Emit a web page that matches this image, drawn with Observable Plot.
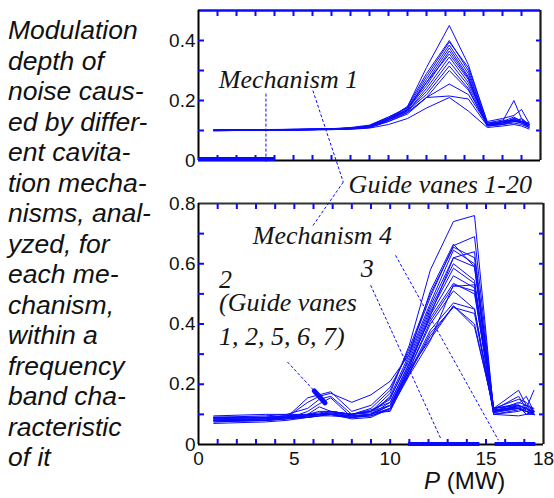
<!DOCTYPE html>
<html><head><meta charset="utf-8">
<script src="https://cdn.jsdelivr.net/npm/d3@7"></script>
<script src="https://cdn.jsdelivr.net/npm/@observablehq/plot@0.6"></script>
<style>
body{margin:0;background:#fff;}
#wrap{position:relative;width:554px;height:498px;overflow:hidden;background:#fff;}
#wrap svg{position:absolute;left:0;top:0;}
#desc{position:absolute;left:8px;top:15px;font-family:"Liberation Sans",Arial,Helvetica,sans-serif;font-size:26.5px;line-height:30.5px;color:#111;white-space:nowrap;}
#desc i{font-style:italic;}
#xlabel{position:absolute;left:424px;top:471px;font-family:"Liberation Sans",Arial,Helvetica,sans-serif;font-size:24px;line-height:20px;color:#111;white-space:nowrap;}
#wrap g[aria-label$="tick label"] text{font-family:"Liberation Sans",Arial,Helvetica,sans-serif;font-size:19px;}
</style></head>
<body>
<div id="wrap">
  <div id="desc"></div>
  <div id="xlabel"><i>P</i> (MW)</div>
</div>
<script>
// ---------- DATA ----------
const descLines = ["Modulation","depth of","noise caus-","ed by differ-","ent cavita-","tion mecha-","nisms, anal-","yzed, for","each me-","chanism,","within a","frequency","band cha-","racteristic","of it"];

// Top panel: mechanism 1, guide vanes 1-20
const topX = [0.8, 3, 5, 7, 8, 9, 10, 11, 12, 13.2, 14.2, 15.2, 16, 16.6, 17, 17.4];
const topSeries = [
  [.100,.101,.102,.104,.106,.112,.135,.18,.31,.45,.32,.125,.13,.135,.13,.12],
  [.101,.102,.103,.105,.108,.115,.14,.18,.29,.40,.30,.12,.13,.20,.14,.12],
  [.102,.101,.104,.106,.110,.118,.145,.175,.28,.395,.31,.13,.14,.15,.17,.125],
  [.100,.102,.103,.105,.107,.113,.14,.17,.27,.385,.29,.12,.125,.135,.13,.115],
  [.099,.101,.102,.104,.106,.112,.135,.17,.26,.375,.28,.115,.12,.13,.125,.11],
  [.101,.103,.104,.105,.108,.114,.14,.17,.25,.365,.275,.12,.125,.14,.135,.12],
  [.100,.101,.103,.106,.107,.116,.145,.175,.26,.355,.27,.118,.13,.145,.13,.125],
  [.102,.102,.104,.105,.109,.113,.14,.165,.24,.345,.26,.125,.135,.13,.14,.12],
  [.100,.100,.102,.104,.106,.111,.135,.165,.23,.33,.25,.12,.12,.135,.125,.115],
  [.101,.102,.103,.105,.108,.115,.14,.165,.22,.315,.24,.115,.125,.13,.13,.12],
  [.100,.101,.102,.104,.107,.112,.135,.16,.21,.30,.235,.12,.125,.14,.125,.115],
  [.099,.101,.102,.104,.106,.110,.13,.16,.21,.255,.22,.12,.13,.135,.13,.12],
  [.100,.101,.102,.103,.105,.110,.13,.155,.21,.215,.205,.115,.12,.125,.12,.11],
  [.100,.100,.101,.103,.104,.108,.12,.14,.175,.21,.165,.11,.115,.12,.115,.105]
];

// Bottom panel: mechanisms 2, 3, 4
const botX = [0.8, 3.5, 4.6, 5.7, 6.3, 6.9, 8, 9, 10, 11, 12.1, 13.3, 14.4, 15.4, 16.7, 17.1, 17.5];
const botSeries = [
  [.09,.09,.095,.10,.11,.11,.10,.11,.17,.33,.58,.74,.76,.11,.12,.11,.10],
  [.085,.085,.09,.14,.16,.17,.14,.165,.21,.30,.51,.665,.59,.12,.18,.13,.11],
  [.08,.08,.09,.155,.165,.175,.11,.13,.19,.31,.49,.66,.69,.115,.16,.12,.10],
  [.095,.10,.10,.12,.15,.16,.10,.12,.18,.32,.50,.655,.62,.12,.15,.14,.11],
  [.075,.08,.085,.11,.135,.155,.09,.10,.16,.30,.47,.645,.60,.11,.14,.13,.12],
  [.09,.09,.095,.10,.125,.11,.10,.11,.15,.29,.46,.62,.59,.105,.13,.12,.18],
  [.08,.085,.09,.095,.10,.105,.10,.11,.155,.28,.45,.60,.545,.12,.135,.16,.11],
  [.085,.08,.09,.10,.10,.10,.09,.10,.14,.27,.44,.585,.535,.11,.12,.11,.10],
  [.07,.075,.08,.09,.10,.10,.095,.10,.13,.26,.43,.56,.52,.10,.115,.12,.105],
  [.09,.09,.09,.095,.10,.105,.10,.115,.14,.27,.42,.535,.50,.12,.13,.10,.11],
  [.08,.08,.085,.09,.095,.10,.09,.10,.13,.25,.41,.525,.53,.115,.125,.13,.10],
  [.085,.085,.09,.095,.10,.10,.085,.09,.12,.25,.40,.51,.45,.10,.11,.12,.10],
  [.075,.08,.085,.09,.095,.10,.095,.10,.13,.24,.38,.47,.45,.11,.125,.10,.11],
  [.08,.08,.09,.09,.095,.095,.09,.095,.12,.235,.37,.455,.435,.105,.12,.11,.10],
  [.09,.095,.10,.10,.105,.11,.10,.105,.11,.24,.36,.46,.39,.12,.13,.115,.11],
  [.085,.09,.095,.10,.10,.105,.095,.10,.12,.25,.35,.46,.40,.115,.12,.11,.105],
  [.08,.085,.09,.095,.10,.10,.09,.095,.115,.23,.345,.53,.51,.10,.095,.10,.10],
  [.09,.09,.095,.10,.10,.11,.10,.11,.13,.26,.43,.62,.64,.11,.13,.12,.11]
];

// tick values
const xMinor = [1,2,3,4,5,6,7,8,9,10,11,12,13,14,15,16,17];
const xLabels = [0,5,10,15,18];
const yMinorTop = [0.1,0.2,0.3,0.4];
const yLabelsTop = [0,0.2,0.4];
const yMinorBot = [0.1,0.2,0.3,0.4,0.5,0.6,0.7];
const yLabelsBot = [0,0.2,0.4,0.6,0.8];

// mechanism frequency-range bars on the P axis
const barsTop = [{x1:0, x2:4.04}];
const barsBot = [{x1:10.95, x2:14.68}, {x1:15.47, x2:17.6}];

// annotations
const annTop = [
  {x:1.07, y:0.27, label:"Mechanism 1"},
  {x:7.9, y:-0.079, label:"Guide vanes 1-20"}
];
const annBot = [
  {x:2.83, y:0.692, label:"Mechanism 4"},
  {x:8.46, y:0.583, label:"3"},
  {x:1.07, y:0.357, label:"1, 2, 5, 6, 7)"}
];
const annBotStack = [{x:1.07, y:0.574, label:"2\n(Guide vanes"}];
const leadTop = [
  {id:"m1", x:3.55, y:0.223}, {id:"m1", x:3.55, y:-0.007},
  {id:"gv", x:6.02, y:0.233}, {id:"gv", x:7.62, y:-0.072}, {id:"gv", x:5.99, y:-0.22}
];
const leadBot = [
  {id:"m3", x:8.98, y:0.529}, {id:"m3", x:12.63, y:0.021},
  {id:"m4", x:10.28, y:0.628}, {id:"m4", x:15.65, y:0.014},
  {id:"m2", x:4.64, y:0.274}, {id:"m2", x:6.01, y:0.18}
];
const mark2 = [{x:6.04, y:0.178}, {x:6.6, y:0.138}];

// ---------- BUILD ----------
document.getElementById("desc").innerHTML = descLines.map(s => "<i>" + s + "</i>").join("<br>");
const BLUE = "#0a0aff";
const toRows = (xs, series) => series.flatMap((s, k) => s.map((v, i) => ({id:k, x:xs[i], y:v})));
const topRows = toRows(topX, topSeries);
const botRows = toRows(botX, botSeries);
const annFont = {fontFamily:"Liberation Serif, Times New Roman, serif", fontStyle:"italic", fontSize:26, fill:"#151515", textAnchor:"start", lineAnchor:"middle"};
const segs = (lead) => lead.slice(0, -1).map((d, i) => ({a:d, b:lead[i+1]})).filter(s => s.a.id === s.b.id);

function panel({rows, yDomain, marginTop, marginBottom, marginRight, yMinor, yLabels, topColor, topWidth, bars, barDy, showX, ann, lead, extra}) {
  return Plot.plot({
    width: 554, height: 498,
    marginLeft: 198, marginRight, marginTop, marginBottom,
    x: {domain:[0,18], label:null},
    y: {domain:yDomain, label:null},
    style: {background:"transparent", fontFamily:"'Liberation Sans', Arial, sans-serif", fontSize:"19px", color:"#111"},
    marks: [
      Plot.line(rows, {x:"x", y:"y", z:"id", stroke:BLUE, strokeWidth:1}),
      Plot.link(segs(lead), {x1:d=>d.a.x, y1:d=>d.a.y, x2:d=>d.b.x, y2:d=>d.b.y, stroke:BLUE, strokeWidth:1, strokeDasharray:"3,2"}),
      ...(extra || []),
      // frame
      Plot.ruleY([yDomain[1]], {stroke:topColor, strokeWidth:topWidth}),
      Plot.ruleX([18], {stroke:"#1a1a1a", strokeWidth:2.2}),
      Plot.ruleX([0], {stroke:"#000", strokeWidth:2}),
      Plot.ruleY([0], {stroke:"#000", strokeWidth:2}),
      // inside ticks
      Plot.axisX(xMinor, {anchor:"bottom", tickSize:-5, tickFormat:()=>"", stroke:BLUE, strokeWidth:2}),
      Plot.axisX(xMinor, {anchor:"top", tickSize:-5, tickFormat:()=>"", stroke:BLUE, strokeWidth:2}),
      Plot.axisY(yMinor, {anchor:"left", tickSize:-6, tickFormat:()=>"", stroke:BLUE, strokeWidth:2}),
      Plot.axisY(yMinor, {anchor:"right", tickSize:-5, tickFormat:()=>"", stroke:BLUE, strokeWidth:2}),
      // labels
      Plot.axisY(yLabels, {anchor:"left", tickSize:0, tickPadding:3, tickFormat:(d)=>String(d), fontSize:19, fill:"#111"}),
      ...(showX ? [Plot.axisX(xLabels, {anchor:"bottom", tickSize:0, tickPadding:7, tickFormat:(d)=>String(d), fontSize:19, fill:"#111"})] : []),
      // mechanism bars
      Plot.ruleY(bars, {x1:"x1", x2:"x2", y:0, stroke:BLUE, strokeWidth:4, dy:barDy}),
      Plot.text(ann, {x:"x", y:"y", text:"label", ...annFont})
    ]
  });
}

const bottomPlot = panel({
  rows: botRows, yDomain:[0,0.8], marginTop:203, marginBottom:54, marginRight:11,
  yMinor:yMinorBot, yLabels:yLabelsBot, topColor:"#333", topWidth:2,
  bars: barsBot, barDy:-0.5, showX:true, ann:annBot, lead:leadBot,
  extra: [
    Plot.line(mark2, {x:"x", y:"y", stroke:BLUE, strokeWidth:5}),
    Plot.text(annBotStack, {x:"x", y:"y", text:"label", ...annFont, lineAnchor:"top", lineHeight:0.885})
  ]
});
const topPlot = panel({
  rows: topRows, yDomain:[0,0.5], marginTop:10, marginBottom:338, marginRight:14,
  yMinor:yMinorTop, yLabels:yLabelsTop, topColor:BLUE, topWidth:2.5,
  bars: barsTop, barDy:-1.5, showX:false, ann:annTop, lead:leadTop
});
const wrap = document.getElementById("wrap");
wrap.appendChild(bottomPlot);
wrap.appendChild(topPlot);
</script>
</body></html>
